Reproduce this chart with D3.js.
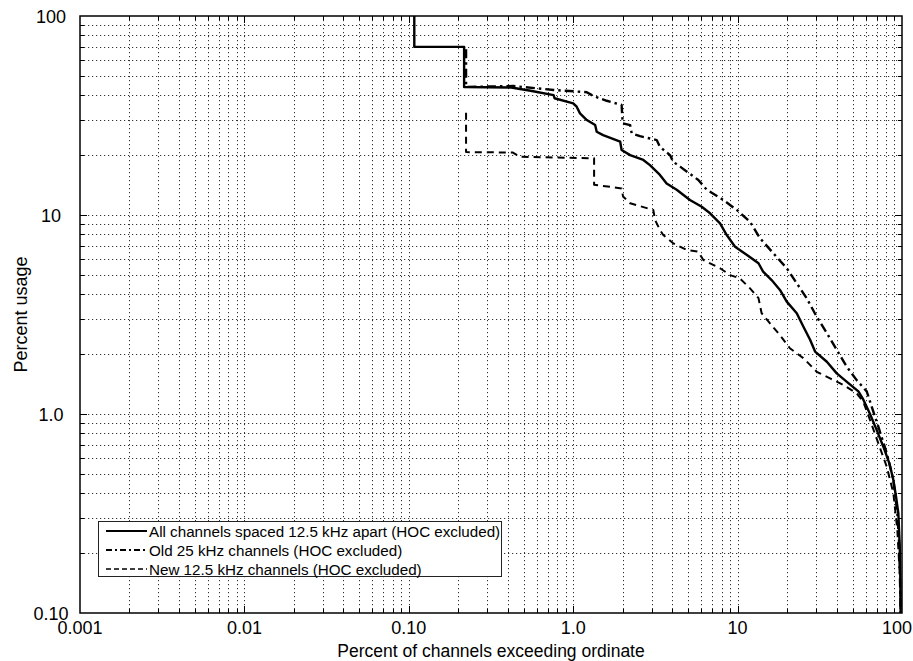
<!DOCTYPE html>
<html>
<head>
<meta charset="utf-8">
<script src="https://cdn.jsdelivr.net/npm/d3@7"></script>
<style>
  html, body { margin: 0; padding: 0; background: #fff; }
  svg { display: block; font-family: "Liberation Sans", Arial, sans-serif; }
</style>
</head>
<body>
<svg id="chart" width="913" height="661"></svg>
<script>
// Exceedance curves: [percent of channels exceeding, percent usage]
const allChannels = [
  [0.108, 100], [0.108, 70], [0.217, 70], [0.217, 44], [0.42, 43.7], [0.55, 42.1],
  [0.76, 40], [0.77, 38.6], [1.0, 36.4], [1.05, 35], [1.10, 32.4], [1.21, 30],
  [1.36, 28.3], [1.39, 26.2], [1.52, 25.2], [1.93, 23.4], [1.97, 21.2], [2.22, 20],
  [2.67, 18.9], [2.93, 17.8], [3.37, 15.9], [3.7, 14.4], [4.26, 13.4], [5.13, 11.9],
  [6.05, 11.0], [6.8, 10.2], [7.82, 9.08], [8.59, 7.93], [9.65, 6.93], [11.4, 6.3],
  [13.4, 5.72], [14.3, 5.19], [16.1, 4.71], [18.1, 4.2], [19.9, 3.67], [22.9, 3.21],
  [25.1, 2.75], [27.6, 2.36], [29.6, 2.06], [34.9, 1.83], [40.1, 1.60], [47.2, 1.43],
  [54.3, 1.30], [58.2, 1.18], [63.9, 1.0], [70.2, 0.83], [77, 0.685], [83.8, 0.565],
  [88.6, 0.466], [92, 0.384], [95, 0.317], [96.9, 0.216], [97.7, 0.147], [98.1, 0.1]
];
const old25kHz = [
  [0.223, 68], [0.223, 44], [0.43, 44.5], [0.76, 42.5], [1.21, 41.4], [1.33, 39.6],
  [1.6, 37.5], [1.97, 35.7], [2.0, 28.9], [2.22, 28.3], [2.27, 25.7], [2.55, 24.9],
  [3.22, 23.8], [3.37, 22.0], [3.88, 20.0], [4.06, 18.5], [4.47, 17.5], [5.77, 15.0],
  [6.49, 13.4], [8.19, 11.9], [9.88, 10.6], [11.9, 9.25], [13.7, 7.64], [16.5, 6.42],
  [19.9, 5.4], [22.9, 4.54], [26.3, 3.82], [30.3, 3.08], [34.9, 2.55], [40.1, 2.10],
  [46.1, 1.73], [53, 1.48], [61, 1.30], [65.4, 1.09], [71.8, 0.863], [80.8, 0.635],
  [88.6, 0.466], [93.7, 0.317], [96.3, 0.216], [98.2, 0.1]
];
const new12kHz = [
  [0.223, 32.6], [0.223, 20.7], [0.43, 20.6], [0.475, 19.6], [1.23, 19.3], [1.34, 19.3],
  [1.34, 14.2], [1.97, 13.6], [2.01, 12.4], [2.22, 11.45], [3.07, 10.6], [3.15, 9.44],
  [3.37, 8.41], [3.53, 7.93], [4.06, 7.21], [4.9, 6.67], [5.77, 6.54], [6.19, 5.94],
  [7.82, 5.40], [9.0, 4.99], [10.3, 4.81], [11.9, 4.28], [13.4, 3.82], [14.0, 3.21],
  [15.7, 2.86], [18.1, 2.49], [20.8, 2.14], [25.1, 1.91], [30.3, 1.63], [36.5, 1.51],
  [44.0, 1.40], [53, 1.27], [58.2, 1.15], [63.9, 0.933], [71.8, 0.712], [80.8, 0.543],
  [88.6, 0.40], [93.7, 0.261], [97.3, 0.147], [98.2, 0.1]
];

const xTickValues = [0.001, 0.01, 0.1, 1, 10, 100];
const xTickLabels = ["0.001", "0.01", "0.10", "1.0", "10", "100"];
const yTickValues = [0.1, 1, 10, 100];
const yTickLabels = ["0.10", "1.0", "10", "100"];

const seriesNames = [
  "All channels spaced 12.5 kHz apart (HOC excluded)",
  "Old 25 kHz channels (HOC excluded)",
  "New 12.5 kHz channels (HOC excluded)"
];

const xTitle = "Percent of channels exceeding ordinate";
const yTitle = "Percent usage";

// ---- layout ----
const L = 80, R = 902, T = 16, B = 613;
const svg = d3.select("#chart");

const x = d3.scaleLog().domain([0.001, 100]).range([L, R]);
const y = d3.scaleLog().domain([0.1, 100]).range([B, T]);

// all 1..9 multiples of each decade inside a log domain
function logGrid(lo, hi) {
  const out = [];
  for (let e = Math.round(Math.log10(lo)); e < Math.round(Math.log10(hi)); e++) {
    for (let k = 1; k <= 9; k++) out.push({ v: k * Math.pow(10, e), major: k === 1 });
  }
  out.push({ v: hi, major: true });
  return out;
}
const xGrid = logGrid(0.001, 100);
const yGrid = logGrid(0.1, 100);

// dotted grid
const grid = svg.append("g")
  .attr("stroke", "#000")
  .attr("stroke-width", 1)
  .attr("stroke-dasharray", "1.2,2.8")
  .attr("opacity", 0.8);
grid.selectAll("line.gx")
  .data(xGrid.filter(d => d.v > 0.001 && d.v < 100))
  .join("line")
  .attr("x1", d => Math.round(x(d.v)) + 0.5).attr("x2", d => Math.round(x(d.v)) + 0.5)
  .attr("y1", T).attr("y2", B);
grid.selectAll("line.gy")
  .data(yGrid.filter(d => d.v > 0.1 && d.v < 100))
  .join("line")
  .attr("y1", d => Math.round(y(d.v)) + 0.5).attr("y2", d => Math.round(y(d.v)) + 0.5)
  .attr("x1", L).attr("x2", R);

// inward ticks on all four sides
const ticks = svg.append("g").attr("stroke", "#000").attr("stroke-width", 1);
xGrid.filter(d => d.v > 0.001 && d.v < 100).forEach(d => {
  const xp = Math.round(x(d.v)) + 0.5, len = d.major ? 7 : 4;
  ticks.append("line").attr("x1", xp).attr("x2", xp).attr("y1", B).attr("y2", B - len);
  ticks.append("line").attr("x1", xp).attr("x2", xp).attr("y1", T).attr("y2", T + len);
});
yGrid.filter(d => d.v > 0.1 && d.v < 100).forEach(d => {
  const yp = Math.round(y(d.v)) + 0.5, len = d.major ? 7 : 4;
  ticks.append("line").attr("y1", yp).attr("y2", yp).attr("x1", L).attr("x2", L + len);
  ticks.append("line").attr("y1", yp).attr("y2", yp).attr("x1", R).attr("x2", R - len);
});

// frame
svg.append("rect")
  .attr("x", L).attr("y", T).attr("width", R - L).attr("height", B - T)
  .attr("fill", "none").attr("stroke", "#000").attr("stroke-width", 1.5);

// tick labels (the last abscissa label is kept inside the canvas)
svg.append("g").selectAll("text")
  .data(xTickValues)
  .join("text")
  .attr("x", (d, i) => i === xTickValues.length - 1 ? 912 : x(d))
  .attr("y", 634)
  .attr("text-anchor", (d, i) => i === xTickValues.length - 1 ? "end" : "middle")
  .attr("font-size", 18)
  .text((d, i) => xTickLabels[i]);
svg.append("g").selectAll("text")
  .data(yTickValues)
  .join("text")
  .attr("x", 51).attr("y", d => y(d) + 6.5)
  .attr("text-anchor", "middle")
  .attr("font-size", 18)
  .text((d, i) => yTickLabels[i]);

// axis titles
svg.append("text")
  .attr("x", (L + R) / 2).attr("y", 657)
  .attr("text-anchor", "middle").attr("font-size", 17.5)
  .text(xTitle);
svg.append("text")
  .attr("transform", `translate(27,${(T + B) / 2}) rotate(-90)`)
  .attr("text-anchor", "middle").attr("font-size", 18)
  .text(yTitle);

// curves
const line = d3.line().x(d => x(d[0])).y(d => y(d[1]));
const styles = [
  { data: allChannels, dash: null, width: 2.4 },
  { data: old25kHz, dash: "9,4,2.5,4", width: 2.4 },
  { data: new12kHz, dash: "7,5", width: 2.0 }
];
const curves = svg.append("g").attr("fill", "none").attr("stroke", "#000")
  .attr("stroke-linejoin", "round");
styles.slice().reverse().forEach(s => {
  curves.append("path")
    .attr("d", line(s.data))
    .attr("stroke-width", s.width)
    .attr("stroke-dasharray", s.dash);
});

// legend
const lg = svg.append("g");
lg.append("rect")
  .attr("x", 98.5).attr("y", 521.5).attr("width", 403).attr("height", 55)
  .attr("fill", "#fff").attr("stroke", "#222").attr("stroke-width", 1);
seriesNames.forEach((name, i) => {
  const yy = 531 + i * 19;
  lg.append("line")
    .attr("x1", 106).attr("x2", 147).attr("y1", yy).attr("y2", yy)
    .attr("stroke", "#000").attr("stroke-width", i === 2 ? 1.6 : 2)
    .attr("stroke-dasharray", i === 0 ? null : (i === 1 ? "6,3,2,3" : "5,3"));
  lg.append("text")
    .attr("x", 149).attr("y", yy + 5.5)
    .attr("font-size", 15.2)
    .text(name);
});
</script>
</body>
</html>
